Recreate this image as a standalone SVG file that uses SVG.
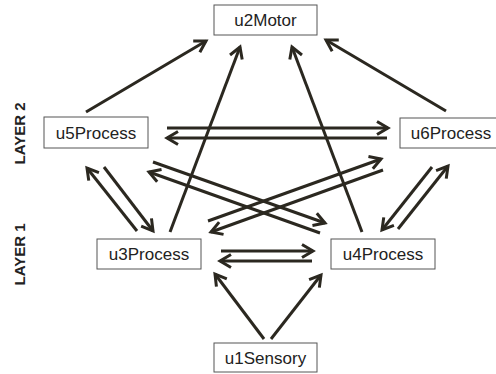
<svg xmlns="http://www.w3.org/2000/svg" width="496" height="374" viewBox="0 0 496 374">
<style>
.box{fill:#fff;stroke:#555;stroke-width:1}
.lbl{font-family:"Liberation Sans",Arial,sans-serif;font-size:17px;fill:#222;text-anchor:middle}
.layer{font-family:"Liberation Sans",Arial,sans-serif;font-size:15px;font-weight:bold;fill:#222;text-anchor:middle}
.c{fill:none;stroke:#2b2820;stroke-width:3;marker-end:url(#ah)}
</style>
<defs>
<marker id="ah" markerUnits="userSpaceOnUse" markerWidth="16" markerHeight="16" viewBox="-2 -8 16 16" refX="11" refY="0" orient="auto">
<path d="M0,-6.5 L11,0 L0,6.5" fill="none" stroke="#2b2820" stroke-width="3" stroke-linejoin="miter"/>
</marker>
</defs>
<rect width="496" height="374" fill="#fff"/>
<g id="layers">
<text class="layer" transform="translate(25,133.5) rotate(-90)">LAYER 2</text>
<text class="layer" transform="translate(25,254.5) rotate(-90)">LAYER 1</text>
</g>
<g id="connectors">
<path class="c" d="M86,112 L206,41"/>
<path class="c" d="M170,232 L240,47"/>
<path class="c" d="M362,232 L292,47"/>
<path class="c" d="M446,111 L326,40"/>
<path class="c" d="M167,128 L388,128"/>
<path class="c" d="M387,138 L167,138"/>
<path class="c" d="M153,162 L325,223"/>
<path class="c" d="M320,233 L149,172"/>
<path class="c" d="M208,221 L381,159"/>
<path class="c" d="M383,170 L211,232"/>
<path class="c" d="M137,231 L87,168"/>
<path class="c" d="M104,167 L153,231"/>
<path class="c" d="M432,167 L382,230"/>
<path class="c" d="M398,229 L448,166"/>
<path class="c" d="M221,251 L313,251"/>
<path class="c" d="M312,261 L220,261"/>
<path class="c" d="M264,339 L215,274"/>
<path class="c" d="M271,339 L321,275"/>
</g>
<g id="u2Motor"><rect class="box" x="214" y="5" width="103" height="30"/><text class="lbl" x="265.5" y="26">u2Motor</text></g>
<g id="u5Process"><rect class="box" x="44" y="117" width="104" height="31"/><text class="lbl" x="96" y="138.5">u5Process</text></g>
<g id="u6Process"><rect class="box" x="400" y="118" width="104" height="30"/><text class="lbl" x="451" y="139">u6Process</text></g>
<g id="u3Process"><rect class="box" x="97" y="239" width="104" height="30"/><text class="lbl" x="149" y="260">u3Process</text></g>
<g id="u4Process"><rect class="box" x="331" y="239" width="104" height="30"/><text class="lbl" x="383" y="260">u4Process</text></g>
<g id="u1Sensory"><rect class="box" x="214" y="343" width="103" height="29"/><text class="lbl" x="265.5" y="363.5">u1Sensory</text></g>
</svg>
